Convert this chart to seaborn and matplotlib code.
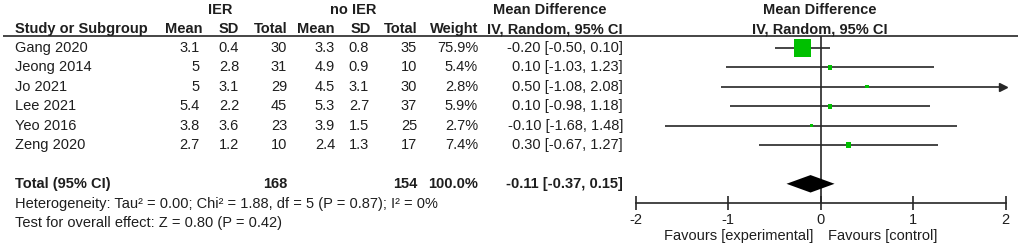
import numpy as np
import pandas as pd
import seaborn as sns
import matplotlib.pyplot as plt

# study level data
studies = ["Gang 2020", "Jeong 2014", "Jo 2021", "Lee 2021", "Yeo 2016", "Zeng 2020"]
ier_mean = ["3.1", "5", "5", "5.4", "3.8", "2.7"]
ier_sd = ["0.4", "2.8", "3.1", "2.2", "3.6", "1.2"]
ier_total = [30, 31, 29, 45, 23, 10]
ctl_mean = ["3.3", "4.9", "4.5", "5.3", "3.9", "2.4"]
ctl_sd = ["0.8", "0.9", "3.1", "2.7", "1.5", "1.3"]
ctl_total = [35, 10, 30, 37, 25, 17]
weight = [75.9, 5.4, 2.8, 5.9, 2.7, 7.4]
md = [-0.20, 0.10, 0.50, 0.10, -0.10, 0.30]
ci_lo = [-0.50, -1.03, -1.08, -0.98, -1.68, -0.67]
ci_hi = [0.10, 1.23, 2.08, 1.18, 1.48, 1.27]

total_md, total_lo, total_hi = -0.11, -0.37, 0.15
heterogeneity = "Heterogeneity: Tau² = 0.00; Chi² = 1.88, df = 5 (P = 0.87); I² = 0%"
overall = "Test for overall effect: Z = 0.80 (P = 0.42)"
x_ticks = [-2, -1, 0, 1, 2]

sns.set_style("white")
plt.rcParams["font.family"] = ["Liberation Sans", "DejaVu Sans"]
plt.rcParams["axes.unicode_minus"] = False

FS = 10.5
TXT = "#1e1e1e"
LINE = "#262626"
GREEN = "#00c000"

W, H = 1022, 249
row0, step = 48, 19.4  # pixel y of the first study row and the row spacing
y_top = -row0 / step
y_bot = (H - row0) / step

fig = plt.figure(figsize=(W / 100, H / 100), dpi=100)

# table part: x in pixels, y in rows
tab = fig.add_axes([0, 0, 1, 1])
tab.set_xlim(0, W)
tab.set_ylim(y_bot, y_top)
tab.axis("off")

h1, h2 = -1.96, -0.97
for x, s in [(220, "IER"), (353, "no IER"), (550, "Mean Difference"), (820, "Mean Difference")]:
    tab.text(x, h1, s, ha="center", va="center", fontsize=FS, fontweight="bold", color=TXT)
tab.text(15, h2, "Study or Subgroup", ha="left", va="center", fontsize=FS, fontweight="bold", color=TXT)
for x, s in [(203, "Mean"), (239, "SD"), (287, "Total"), (335, "Mean"), (371, "SD"),
             (417, "Total"), (478, "Weight"), (623, "IV, Random, 95% CI")]:
    tab.text(x, h2, s, ha="right", va="center", fontsize=FS, fontweight="bold", color=TXT)
tab.text(820, h2, "IV, Random, 95% CI", ha="center", va="center", fontsize=FS, fontweight="bold", color=TXT)
tab.hlines(-0.6, 3, 1018, color=LINE, lw=1.2)

cols = [ier_mean, ier_sd, ier_total, ctl_mean, ctl_sd, ctl_total,
        [f"{w:.1f}%" for w in weight],
        [f"{m:.2f} [{lo:.2f}, {hi:.2f}]" for m, lo, hi in zip(md, ci_lo, ci_hi)]]
col_x = [200, 239, 287, 335, 369, 417, 478, 623]
for i, name in enumerate(studies):
    tab.text(15, i, name, ha="left", va="center", fontsize=FS, color=TXT)
    for x, col in zip(col_x, cols):
        tab.text(x, i, str(col[i]), ha="right", va="center", fontsize=FS, color=TXT)

rt = 7
tab.text(15, rt, "Total (95% CI)", ha="left", va="center", fontsize=FS, fontweight="bold", color=TXT)
tab.text(287, rt, str(sum(ier_total)), ha="right", va="center", fontsize=FS, fontweight="bold", color=TXT)
tab.text(417, rt, str(sum(ctl_total)), ha="right", va="center", fontsize=FS, fontweight="bold", color=TXT)
tab.text(478, rt, "100.0%", ha="right", va="center", fontsize=FS, fontweight="bold", color=TXT)
tab.text(623, rt, f"{total_md:.2f} [{total_lo:.2f}, {total_hi:.2f}]", ha="right", va="center",
         fontsize=FS, fontweight="bold", color=TXT)
tab.text(15, 8.04, heterogeneity, ha="left", va="center", fontsize=FS, color=TXT)
tab.text(15, 9.02, overall, ha="left", va="center", fontsize=FS, color=TXT)

# forest part: x in mean difference units
x_l = (820.7 - 2 * 92.4) / W
ax = fig.add_axes([x_l, 0, 4 * 92.4 / W, 1])
ax.set_xlim(-2, 2)
ax.set_ylim(y_bot, y_top)
ax.patch.set_alpha(0)

df = pd.DataFrame({"row": np.arange(len(studies)), "md": md, "lo": ci_lo, "hi": ci_hi, "weight": weight})
df["lo_c"] = df["lo"].clip(-2, 2)
df["hi_c"] = df["hi"].clip(-2, 2)

ax.vlines(0, -0.6, 8, color=LINE, lw=1.2, zorder=1)
ax.hlines(df["row"], df["lo_c"], df["hi_c"], color=LINE, lw=1.2, zorder=2)
for _, r in df[df["hi"] > 2].iterrows():
    ax.plot(r["hi_c"] - 0.03, r["row"], marker=">", ms=6, color=LINE, clip_on=False, zorder=3)
for _, r in df[df["lo"] < -2].iterrows():
    ax.plot(r["lo_c"] + 0.03, r["row"], marker="<", ms=6, color=LINE, clip_on=False, zorder=3)

sns.scatterplot(data=df, x="md", y="row", size="weight", sizes=(2.7 * 1.98, 75.9 * 1.98),
                marker="s", color=GREEN, edgecolor="none", legend=False, ax=ax, zorder=4)

dh = 0.45
ax.fill([total_lo, total_md, total_hi, total_md], [rt, rt - dh, rt, rt + dh],
        color="black", lw=0, zorder=4)

for side in ["top", "left", "right"]:
    ax.spines[side].set_visible(False)
ax.spines["bottom"].set_position(("data", 8))
ax.spines["bottom"].set_bounds(-2, 2)
ax.spines["bottom"].set_color(LINE)
ax.spines["bottom"].set_linewidth(1.2)
ax.set_xticks(x_ticks)
ax.set_xticklabels([str(t) for t in x_ticks])
ax.tick_params(axis="x", direction="inout", length=10, width=1.2, color=LINE,
               labelsize=FS, labelcolor=TXT, pad=2, bottom=True)
ax.set_yticks([])
ax.set_xlabel("")
ax.set_ylabel("")

ax.text(-0.08, 9.7, "Favours [experimental]", ha="right", va="center", fontsize=FS, color=TXT)
ax.text(0.08, 9.7, "Favours [control]", ha="left", va="center", fontsize=FS, color=TXT)

fig.savefig("out.png", dpi=100)
